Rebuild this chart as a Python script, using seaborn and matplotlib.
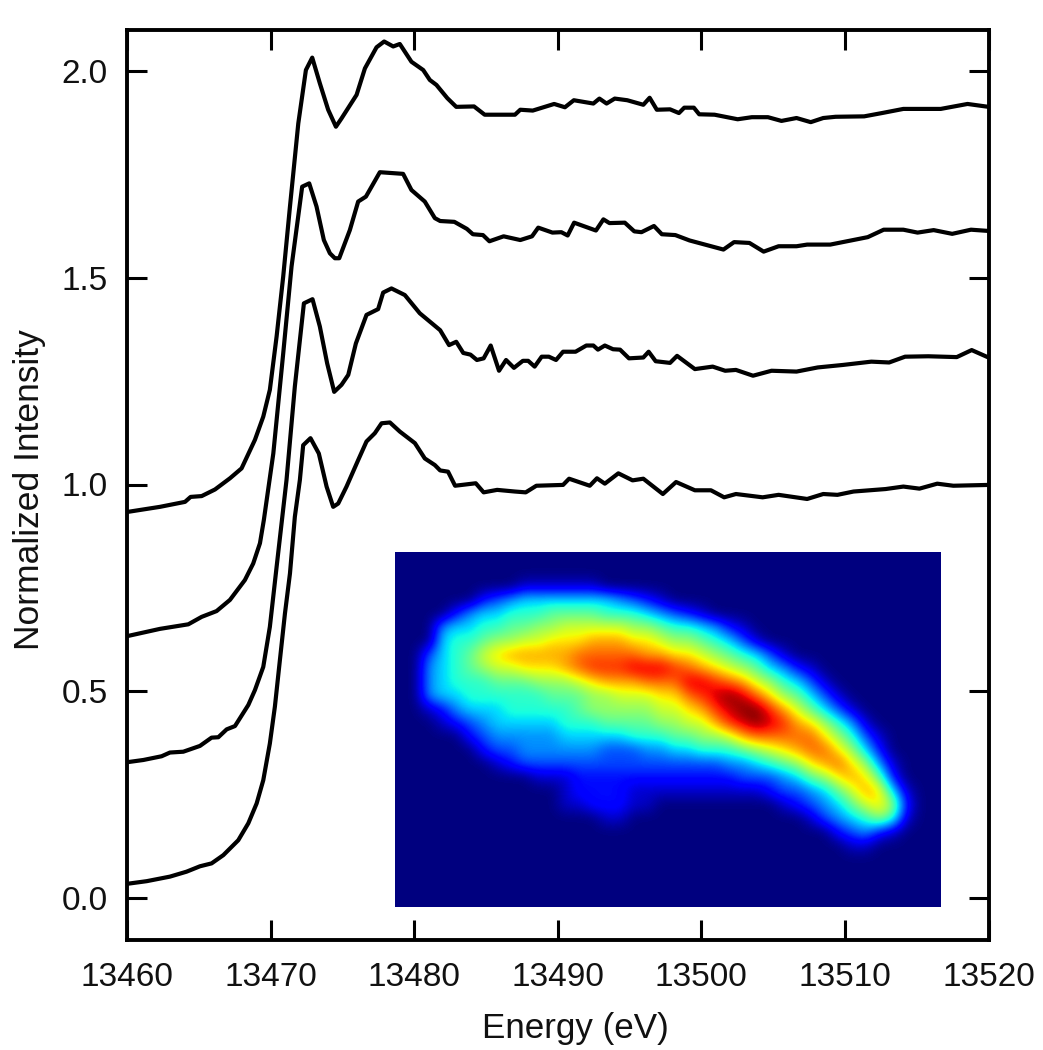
import numpy as np
import pandas as pd
import seaborn as sns
import matplotlib.pyplot as plt

# energies are eV above 13460
E_START = 13460

e_top = [0.09, 2.3, 4.04, 4.43, 5.2, 6.13, 7.17, 7.98, 8.91, 9.49, 9.95, 10.42, 10.88, 11.35, 11.93, 12.46, 12.9,
         13.43, 14.01, 14.55, 14.94, 15.99, 16.57, 17.38, 17.91, 18.54, 19.0, 19.81, 20.63, 21.09, 21.55, 22.31,
         22.93, 24.17, 24.91, 27.02, 27.39, 28.26, 29.75, 30.5, 31.12, 32.48, 32.9, 33.4, 33.97, 34.84, 35.96, 36.4,
         36.9, 37.82, 38.44, 38.81, 39.48, 39.85, 40.92, 42.53, 43.52, 44.64, 45.58, 46.63, 47.62, 48.49, 49.35,
         51.34, 52.58, 54.07, 56.67, 58.54, 60.0]
i_top = [0.934, 0.946, 0.958, 0.970, 0.972, 0.988, 1.015, 1.039, 1.108, 1.164, 1.229, 1.358, 1.503, 1.672, 1.873,
         2.002, 2.032, 1.970, 1.906, 1.865, 1.885, 1.942, 2.006, 2.057, 2.071, 2.059, 2.065, 2.022, 2.002, 1.978,
         1.966, 1.934, 1.913, 1.914, 1.894, 1.894, 1.906, 1.904, 1.920, 1.912, 1.929, 1.921, 1.933, 1.921, 1.933,
         1.929, 1.918, 1.935, 1.906, 1.907, 1.898, 1.911, 1.911, 1.895, 1.894, 1.883, 1.888, 1.888, 1.879, 1.886,
         1.876, 1.886, 1.889, 1.890, 1.898, 1.908, 1.908, 1.920, 1.913]

e_second = [0.09, 2.3, 4.27, 5.2, 6.24, 7.17, 8.21, 8.79, 9.26, 9.53, 10.19, 10.88, 11.46, 12.2, 12.69, 13.2, 13.71,
            14.13, 14.48, 14.78, 15.52, 16.1, 16.64, 17.61, 19.23, 19.81, 20.74, 21.44, 21.81, 22.8, 23.67, 24.09,
            24.79, 25.24, 26.23, 27.39, 28.21, 28.64, 29.63, 30.25, 30.69, 31.14, 32.66, 33.18, 33.6, 34.67, 35.33,
            35.83, 36.7, 37.25, 38.19, 39.18, 41.54, 42.28, 43.35, 44.34, 45.38, 46.63, 47.37, 48.98, 51.59, 52.7,
            54.07, 55.06, 56.18, 57.47, 58.78, 60.0]
i_second = [0.634, 0.651, 0.662, 0.680, 0.694, 0.721, 0.769, 0.809, 0.858, 0.914, 1.075, 1.317, 1.527, 1.720, 1.728,
            1.672, 1.591, 1.559, 1.547, 1.547, 1.615, 1.684, 1.696, 1.755, 1.751, 1.712, 1.684, 1.644, 1.637, 1.635,
            1.618, 1.605, 1.603, 1.588, 1.600, 1.591, 1.600, 1.621, 1.609, 1.610, 1.602, 1.633, 1.614, 1.641, 1.632,
            1.633, 1.612, 1.610, 1.625, 1.605, 1.603, 1.590, 1.568, 1.586, 1.584, 1.563, 1.576, 1.576, 1.580, 1.580,
            1.598, 1.616, 1.616, 1.609, 1.615, 1.606, 1.616, 1.613]

e_third = [0.09, 1.14, 2.41, 2.99, 3.92, 5.08, 5.89, 6.36, 6.94, 7.52, 8.45, 8.91, 9.49, 9.95, 10.42, 11.11, 11.69,
           12.32, 12.92, 13.43, 13.94, 14.43, 14.94, 15.41, 15.94, 16.68, 17.49, 17.84, 18.42, 19.35, 20.39, 21.81,
           22.43, 22.93, 23.42, 23.92, 24.37, 24.84, 25.33, 25.91, 26.4, 26.95, 27.57, 27.94, 28.39, 28.88, 29.38,
           29.88, 30.37, 31.24, 31.99, 32.48, 32.8, 33.28, 33.85, 34.34, 34.96, 35.96, 36.33, 36.82, 37.82, 38.31,
           39.55, 40.79, 41.66, 42.41, 43.6, 44.89, 46.63, 48.11, 49.85, 51.84, 53.08, 54.19, 55.81, 57.79, 58.83,
           60.0]
i_third = [0.329, 0.334, 0.343, 0.352, 0.354, 0.368, 0.388, 0.389, 0.408, 0.416, 0.467, 0.503, 0.559, 0.656, 0.801,
           1.011, 1.237, 1.438, 1.448, 1.382, 1.293, 1.224, 1.241, 1.265, 1.341, 1.410, 1.424, 1.464, 1.474, 1.458,
           1.414, 1.373, 1.337, 1.345, 1.318, 1.314, 1.301, 1.305, 1.336, 1.275, 1.301, 1.282, 1.299, 1.299, 1.285,
           1.309, 1.309, 1.301, 1.321, 1.321, 1.336, 1.336, 1.326, 1.336, 1.327, 1.326, 1.305, 1.307, 1.321, 1.298,
           1.294, 1.311, 1.279, 1.285, 1.275, 1.277, 1.263, 1.275, 1.273, 1.283, 1.289, 1.297, 1.295, 1.309, 1.310,
           1.308, 1.325, 1.307]

e_bottom = [0.09, 1.37, 2.99, 4.15, 5.08, 5.89, 6.71, 7.75, 8.45, 9.03, 9.49, 9.95, 10.3, 10.65, 11.0, 11.35, 11.69,
            12.04, 12.27, 12.78, 13.36, 13.9, 14.36, 14.71, 15.29, 16.1, 16.68, 17.26, 17.73, 18.31, 19.0, 20.05,
            20.74, 21.44, 21.81, 22.36, 22.85, 24.29, 24.84, 25.78, 27.02, 27.77, 28.51, 30.37, 30.79, 32.23, 32.73,
            33.28, 34.22, 35.21, 35.96, 37.32, 38.24, 39.55, 40.67, 41.59, 42.41, 44.27, 45.38, 47.37, 48.49, 49.48,
            50.6, 52.83, 54.07, 55.19, 56.43, 57.55, 60.0]
i_bottom = [0.035, 0.041, 0.052, 0.064, 0.077, 0.084, 0.104, 0.140, 0.181, 0.229, 0.285, 0.374, 0.463, 0.576, 0.688,
            0.785, 0.922, 1.011, 1.095, 1.112, 1.075, 0.995, 0.946, 0.954, 0.995, 1.059, 1.104, 1.124, 1.148, 1.150,
            1.128, 1.100, 1.063, 1.047, 1.034, 1.031, 0.997, 1.003, 0.981, 0.987, 0.983, 0.981, 0.997, 0.999, 1.014,
            0.997, 1.015, 1.002, 1.027, 1.010, 1.014, 0.977, 1.006, 0.986, 0.986, 0.969, 0.977, 0.969, 0.975, 0.965,
            0.977, 0.975, 0.983, 0.989, 0.995, 0.990, 1.002, 0.997, 0.999]

x_ticks = [13460, 13470, 13480, 13490, 13500, 13510, 13520]
y_ticks = [0.0, 0.5, 1.0, 1.5, 2.0]

map_rows = [
    "",
    "",
    "000000000111111",
    "0000002345555555" + "4321",
    "00002455666777766654321",
    "00045566778899999887665421",
    "00056678899aaabbbaa98876531",
    "0035679abbbbbcccccbbaa9876531",
    "004567899aaabcdddeeedcba9875421",
    "00456667778889abbbccceedcb986531",
    "0045566666677788999aacdefeca87531",
    "001245556666678888899abdeffdb97531",
    "0001234555556667777889" + "9bdefedba8641",
    "00000234444455555666778" + "89bccccca8631",
    "000000233444444333445566" + "6789abcca852",
    "00000001233333333333333" + "3445678abca841",
    "0000000000111222222222222" + "3334578aba72",
    "000000000000122221111111111" + "2334579ba51",
    "0000000000001122211000000000" + "1234579a82",
    "00000000000000011" + "0000000000000" + "13456861",
    "00000000000000000000000000000000" + "23421",
    "00000000000000000000000000000000" + "011",
    "",
    "",
    "",
    "",
]

sns.set_style("ticks")
plt.rcParams["font.family"] = ["Liberation Sans", "DejaVu Sans"]

W, H = 1043, 1050
fig = plt.figure(figsize=(W / 100, H / 100), dpi=100)
ax = fig.add_axes([127 / W, 1 - 939.5 / H, (988.5 - 127) / W, (939.5 - 29.5) / H])

for e_vals, i_vals in [(e_top, i_top), (e_second, i_second), (e_third, i_third), (e_bottom, i_bottom)]:
    df = pd.DataFrame({"energy": E_START + np.array(e_vals), "intensity": i_vals})
    sns.lineplot(data=df, x="energy", y="intensity", estimator=None, sort=False, color="black",
                 linewidth=3.0, ax=ax)

ax.set_xlim(13460, 13520)
ax.set_ylim(-0.1, 2.1)
ax.set_xticks(x_ticks)
ax.set_yticks(y_ticks)
ax.set_yticklabels([f"{v:.1f}" for v in y_ticks])
ax.tick_params(direction="in", length=14.5, width=2.2, labelsize=24, top=True, right=True,
               color="black", labelcolor="#111111")
ax.tick_params(axis="x", pad=16)
ax.tick_params(axis="y", pad=14)
for spine in ax.spines.values():
    spine.set_visible(True)
    spine.set_linewidth(2.8)
    spine.set_color("black")
ax.set_xlabel("Energy (eV)", fontsize=25.2, labelpad=14, color="#111111", x=0.521)
ax.set_ylabel("Normalized Intensity", fontsize=25.5, labelpad=11, color="#111111", y=0.494)

# inset
map_grid = np.array([[int(c, 16) / 15 for c in row.ljust(40, "0")] for row in map_rows])
inset = fig.add_axes([395 / W, 1 - 907 / H, (940 - 395) / W, (907 - 552) / H])
inset.imshow(map_grid, cmap="jet", vmin=0, vmax=1, aspect="auto", interpolation="bicubic")
inset.set_xticks([])
inset.set_yticks([])
for spine in inset.spines.values():
    spine.set_visible(False)

fig.savefig("out.png", dpi=100)
